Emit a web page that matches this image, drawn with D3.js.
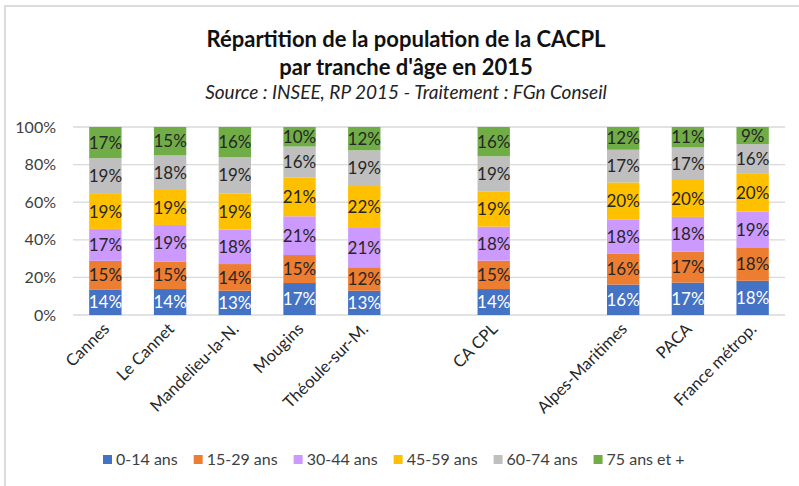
<!DOCTYPE html>
<html>
<head>
<meta charset="utf-8">
<script src="https://cdn.jsdelivr.net/npm/d3@7"></script>
<style>
  body { margin: 0; background: #fff; }
  svg { display: block; font-family: Lato, "Open Sans", sans-serif; }
</style>
</head>
<body>
<div id="chart"></div>
<script>
// emplacements sur l'axe (deux vides pour séparer les groupes)
const slots = ["Cannes", "Le Cannet", "Mandelieu-la-N.", "Mougins", "Théoule-sur-M.", "_gap1", "CA CPL", "_gap2", "Alpes-Maritimes", "PACA", "France métrop."];
const categories = ["Cannes", "Le Cannet", "Mandelieu-la-N.", "Mougins", "Théoule-sur-M.", "CA CPL", "Alpes-Maritimes", "PACA", "France métrop."];
const ageGroups = ["0-14 ans", "15-29 ans", "30-44 ans", "45-59 ans", "60-74 ans", "75 ans et +"];

// parts (%) par tranche d'âge, dans l'ordre des catégories
const age0_14  = [13.6, 13.8, 12.9, 17.0, 12.9, 13.8, 16.2, 17.2, 18.2];
const age15_29 = [15.2, 14.7, 14.2, 14.9, 12.5, 15.1, 16.3, 16.6, 17.8];
const age30_44 = [17.0, 19.4, 18.3, 20.6, 20.9, 18.1, 18.1, 18.4, 19.0];
const age45_59 = [18.6, 18.6, 19.3, 20.7, 22.3, 18.8, 19.9, 19.6, 20.1];
const age60_74 = [19.0, 18.4, 19.2, 16.4, 19.0, 18.6, 17.4, 17.3, 15.8];
const age75    = [16.6, 15.1, 16.1, 10.4, 12.4, 15.6, 12.1, 10.9, 9.1];
const yTicks = [0, 20, 40, 60, 80, 100];

const colors = ["#4472C4", "#ED7D31", "#CC99FF", "#FFC000", "#BFBFBF", "#70AD47"];

const W = 799, H = 486;
const svg = d3.select("#chart").append("svg").attr("width", W).attr("height", H);

// cadre gris clair
svg.append("path")
  .attr("d", `M5,${H} V6 H${W}`)
  .attr("fill", "none").attr("stroke", "#dcdcdc").attr("stroke-width", 2);

// titres
svg.append("text").attr("x", 406).attr("y", 47).attr("text-anchor", "middle")
  .style("font-size", "22px").style("font-weight", "bold").attr("fill", "#111")
  .text("Répartition de la population de la CACPL");
svg.append("text").attr("x", 406).attr("y", 75).attr("text-anchor", "middle")
  .style("font-size", "22px").style("font-weight", "bold").attr("fill", "#111")
  .text("par tranche d'âge en 2015");
svg.append("text").attr("x", 406).attr("y", 99).attr("text-anchor", "middle")
  .style("font-size", "19px").style("font-style", "italic").attr("fill", "#222")
  .text("Source : INSEE, RP 2015 - Traitement : FGn Conseil");

const x = d3.scaleBand().domain(slots).range([73, 785]).paddingInner(0.5).paddingOuter(0.25);
const y = d3.scaleLinear().domain([0, 100]).range([315, 127]);

// grille horizontale
svg.append("g").selectAll("line").data(yTicks).join("line")
  .attr("x1", 73).attr("x2", 785)
  .attr("y1", d => y(d)).attr("y2", d => y(d))
  .attr("stroke", "#d9d9d9").attr("stroke-width", 1.3);

// axe Y
const yAxis = svg.append("g").attr("transform", "translate(59,0)")
  .call(d3.axisLeft(y).tickValues(yTicks).tickFormat(d => d + "%").tickSize(0));
yAxis.select(".domain").remove();
yAxis.selectAll("text").style("font-size", "16px").attr("fill", "#404040")
  .style("font-family", "Lato, 'Open Sans', sans-serif");

// empilement
const series = [age0_14, age15_29, age30_44, age45_59, age60_74, age75];
const rows = categories.map((c, i) => {
  const r = { cat: c };
  ageGroups.forEach((g, k) => r[g] = series[k][i]);
  return r;
});
const stacked = d3.stack().keys(ageGroups)(rows);

const layers = svg.append("g").selectAll("g").data(stacked).join("g")
  .attr("fill", (d, i) => colors[i]);

layers.selectAll("rect").data(d => d).join("rect")
  .attr("x", d => x(d.data.cat))
  .attr("width", x.bandwidth())
  .attr("y", d => y(d[1]))
  .attr("height", d => y(d[0]) - y(d[1]));

layers.selectAll("text").data((d, i) => d.map(v => ({ v, i }))).join("text")
  .attr("x", d => x(d.v.data.cat) + x.bandwidth() / 2)
  .attr("y", d => (y(d.v[0]) + y(d.v[1])) / 2)
  .attr("dy", "0.36em")
  .attr("text-anchor", "middle")
  .style("font-size", "17px")
  .attr("fill", d => d.i === 0 ? "#ffffff" : "#262626")
  .text(d => Math.round(d.v[1] - d.v[0]) + "%");

// étiquettes X inclinées
svg.append("g").selectAll("text").data(categories).join("text")
  .attr("transform", d => `translate(${x(d) + x.bandwidth() / 2 + 5},${330}) rotate(-45)`)
  .attr("text-anchor", "end")
  .style("font-size", "16.5px")
  .attr("fill", "#262626")
  .text(d => d);

// légende
const legend = svg.append("g").attr("transform", "translate(103,455)");
let lx = 0;
ageGroups.forEach((g, i) => {
  const it = legend.append("g").attr("transform", `translate(${lx},0)`);
  it.append("rect").attr("width", 9).attr("height", 9).attr("fill", colors[i]);
  const t = it.append("text").attr("x", 13).attr("y", 4.5).attr("dy", "0.36em")
    .style("font-size", "16px").attr("fill", "#404040").text(g);
  lx += 13 + t.node().getComputedTextLength() + 16;
});
</script>
</body>
</html>
